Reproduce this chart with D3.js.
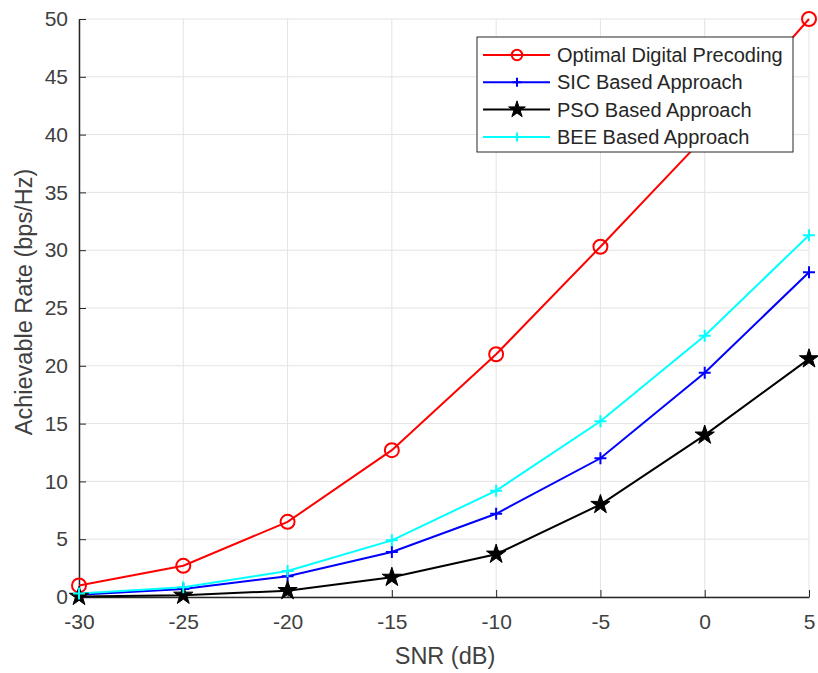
<!DOCTYPE html>
<html>
<head>
<meta charset="utf-8">
<script src="https://cdn.jsdelivr.net/npm/d3@7"></script>
<style>
  body { margin: 0; background: #fff; }
  svg { font-family: "Liberation Sans", Arial, sans-serif; }
</style>
</head>
<body>
<div id="chart"></div>
<script>
// x axis values (SNR in dB)
const snr = [-30, -25, -20, -15, -10, -5, 0, 5]

// achievable rate
const optimal = [1.0, 2.7, 6.5, 12.7, 21.0, 30.3, 39.8, 50.0]
const sic = [0.2, 0.7, 1.8, 3.9, 7.2, 12.0, 19.4, 28.1]
const pso = [0.05, 0.15, 0.55, 1.7, 3.7, 8.0, 14.0, 20.6]
const bee = [0.3, 0.85, 2.25, 4.9, 9.2, 15.2, 22.6, 31.3]

const xTicks = [-30, -25, -20, -15, -10, -5, 0, 5]
const yTicks = [0, 5, 10, 15, 20, 25, 30, 35, 40, 45, 50]

const seriesNames = ["Optimal Digital Precoding", "SIC Based Approach", "PSO Based Approach", "BEE Based Approach"]

const width = 818, height = 673
const margin = {top: 19, bottom: 76, left: 79, right: 9}

const series = [
  {name: seriesNames[0], values: optimal, color: "#ff0000", marker: "circle"},
  {name: seriesNames[1], values: sic, color: "#0000ff", marker: "plus"},
  {name: seriesNames[2], values: pso, color: "#000000", marker: "star"},
  {name: seriesNames[3], values: bee, color: "#00ffff", marker: "plus"}
]

const xScale = d3.scaleLinear()
  .domain([-30, 5])
  .range([margin.left, width - margin.right])

const yScale = d3.scaleLinear()
  .domain([0, 50])
  .range([height - margin.bottom, margin.top])

const svg = d3.select('#chart')
  .append("svg")
  .attr("width", width)
  .attr("height", height)

// grid
svg.append('g')
  .selectAll('line')
  .data(xTicks)
  .join('line')
  .attr('x1', d => xScale(d)).attr('x2', d => xScale(d))
  .attr('y1', yScale(0)).attr('y2', yScale(50))
  .attr('stroke', '#e3e3e3').attr('stroke-width', 1)
svg.append('g')
  .selectAll('line')
  .data(yTicks)
  .join('line')
  .attr('x1', xScale(-30)).attr('x2', xScale(5))
  .attr('y1', d => yScale(d)).attr('y2', d => yScale(d))
  .attr('stroke', '#e3e3e3').attr('stroke-width', 1)

// axes, ticks pointing inward like matlab
const fmt = d => String(d)  // plain hyphen, not unicode minus

const xAxis = d3.axisBottom(xScale)
  .tickValues(xTicks)
  .tickFormat(fmt)
  .tickSizeInner(-7)
  .tickSizeOuter(0)
  .tickPadding(17)

const yAxis = d3.axisLeft(yScale)
  .tickValues(yTicks)
  .tickFormat(fmt)
  .tickSizeInner(-7)
  .tickSizeOuter(0)
  .tickPadding(11)

const gx = svg.append('g')
  .attr('transform', 'translate(' + [0, height - margin.bottom] + ')')
  .call(xAxis)
const gy = svg.append('g')
  .attr('transform', 'translate(' + [margin.left, 0] + ')')
  .call(yAxis)

for (const g of [gx, gy]) {
  g.select('.domain').attr('stroke', '#262626').attr('stroke-width', 1.5)
  g.selectAll('.tick line').attr('stroke', '#262626')
  g.selectAll('.tick text')
    .attr('fill', '#404040')
    .style('font-size', '21px')
    .style('font-family', '"Liberation Sans", Arial, sans-serif')
}

// axis labels
svg.append('text')
  .attr('x', 445).attr('y', 664)
  .attr('text-anchor', 'middle')
  .attr('fill', '#404040')
  .style('font-size', '23.5px')
  .text('SNR (dB)')

svg.append('text')
  .attr('transform', 'translate(32,' + 302 + ') rotate(-90)')
  .attr('text-anchor', 'middle')
  .attr('fill', '#404040')
  .style('font-size', '23.5px')
  .text('Achievable Rate (bps/Hz)')

const line = d3.line()
  .x((d, i) => xScale(snr[i]))
  .y(d => yScale(d))

function drawMarker(g, type, color, small) {
  const k = small ? 0.75 : 1
  if (type === 'circle') {
    g.append('circle').attr('r', 7 * k)
      .attr('fill', 'none').attr('stroke', color).attr('stroke-width', 2)
  } else if (type === 'plus') {
    const h = 6 * k
    g.append('path').attr('d', 'M' + (-h) + ',0H' + h + 'M0,' + (-h) + 'V' + h)
      .attr('stroke', color).attr('stroke-width', 2).attr('fill', 'none')
  } else {
    g.append('path').attr('d', d3.symbol().type(d3.symbolStar).size(115 * k)())
      .attr('fill', color).attr('stroke', color).attr('stroke-width', 1)
  }
}

const plot = svg.append('g')
series.forEach(s => {
  plot.append('path')
    .attr('d', line(s.values))
    .attr('fill', 'none')
    .attr('stroke', s.color)
    .attr('stroke-width', 2)
})
series.forEach(s => {
  s.values.forEach((v, i) => {
    const g = plot.append('g')
      .attr('transform', 'translate(' + [xScale(snr[i]), yScale(v)] + ')')
    drawMarker(g, s.marker, s.color, false)
  })
})

// legend
const legend = svg.append('g').attr('transform', 'translate(477,37)')
legend.append('rect')
  .attr('width', 316).attr('height', 115)
  .attr('fill', '#fff').attr('stroke', '#262626').attr('stroke-width', 1)

series.forEach((s, i) => {
  const y = 18 + i * 27.3
  const row = legend.append('g').attr('transform', 'translate(0,' + y + ')')
  row.append('line')
    .attr('x1', 6).attr('x2', 73)
    .attr('stroke', s.color).attr('stroke-width', 2)
  const m = row.append('g').attr('transform', 'translate(40,0)')
  drawMarker(m, s.marker, s.color, true)
  row.append('text')
    .attr('x', 80).attr('y', 7)
    .attr('fill', '#262626')
    .style('font-size', '20px')
    .text(s.name)
})
</script>
</body>
</html>
